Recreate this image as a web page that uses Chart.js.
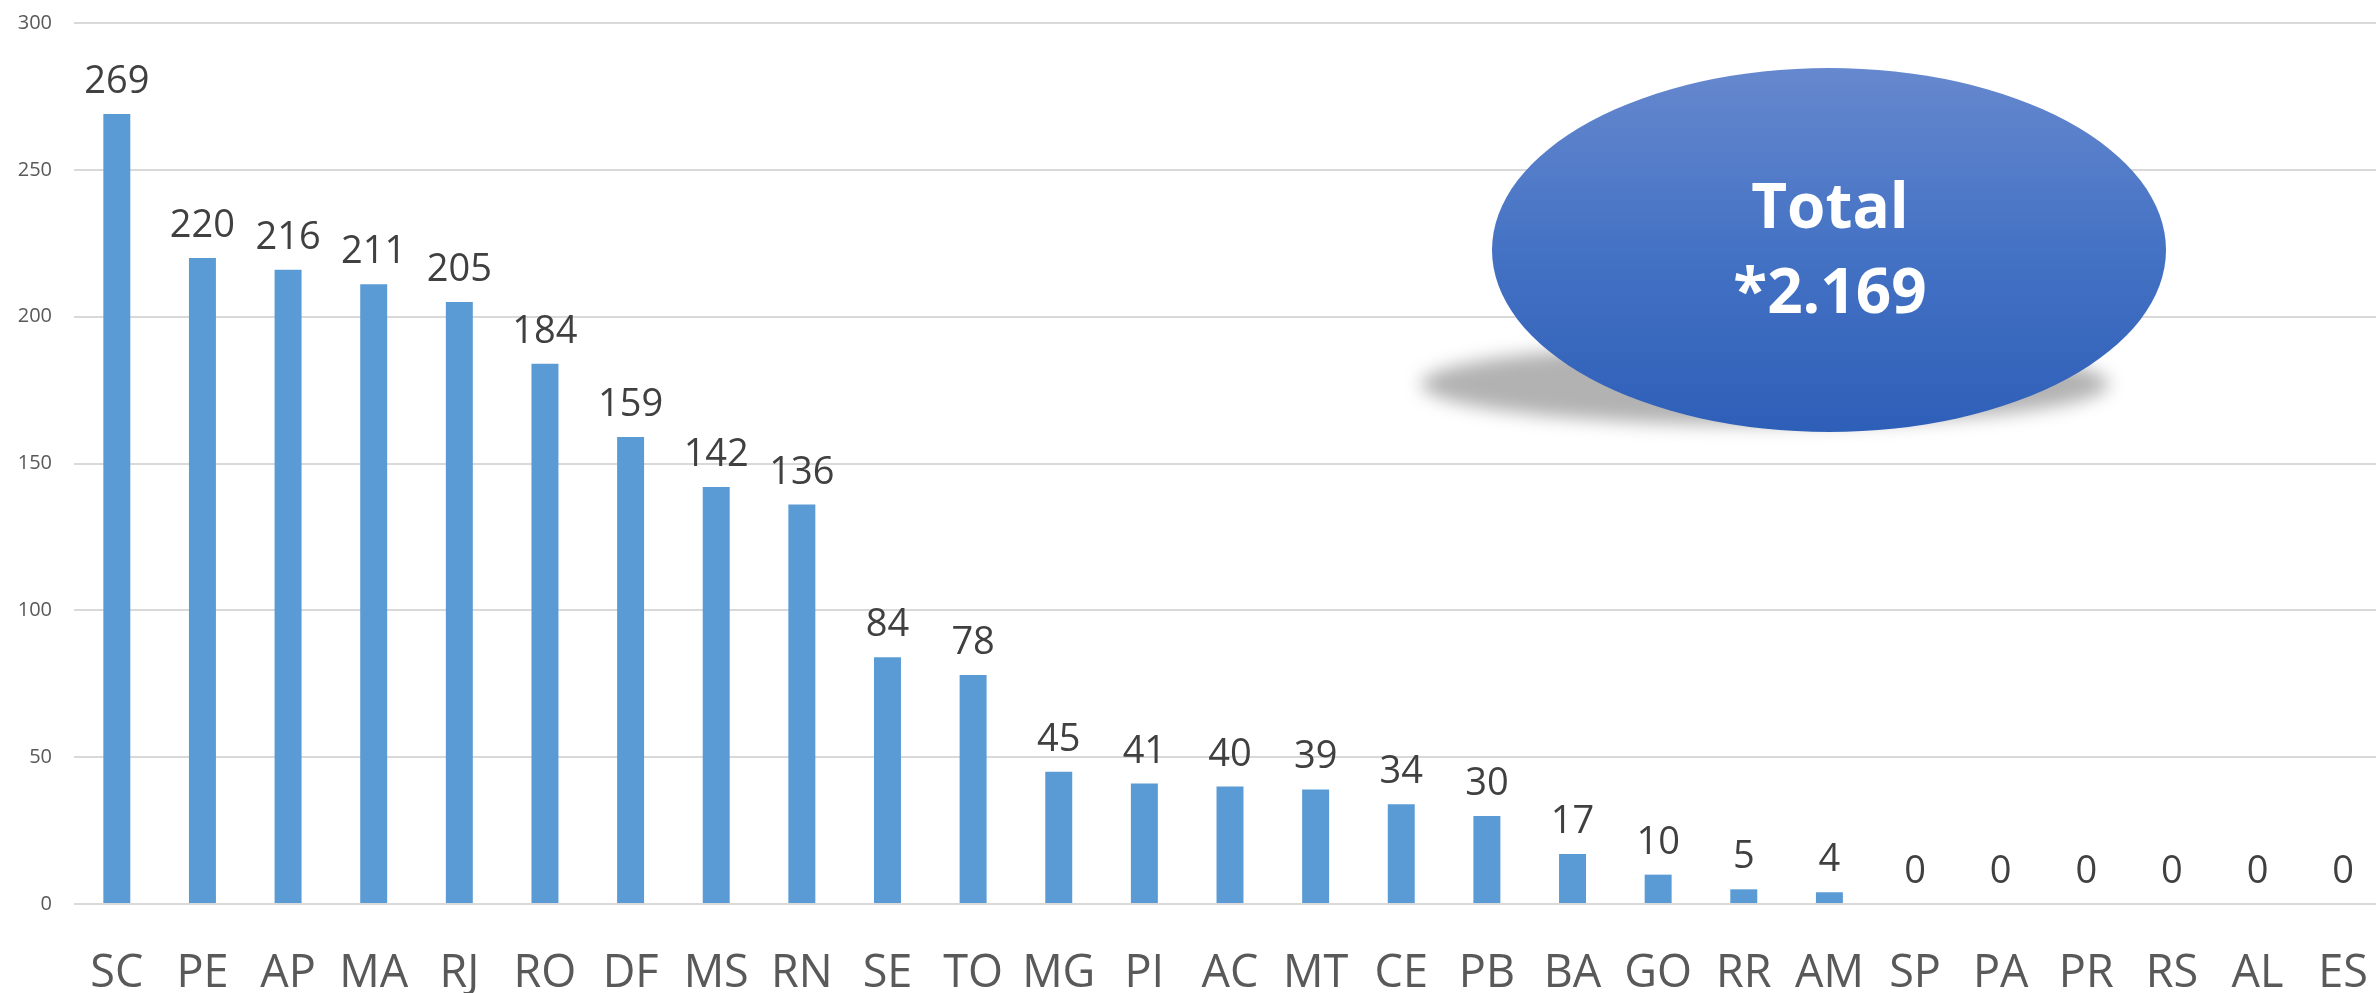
<!DOCTYPE html>
<html>
<head>
<meta charset="utf-8">
<script src="https://cdn.jsdelivr.net/npm/chart.js@4.4.1/dist/chart.umd.min.js"></script>
<style>
  html, body { margin: 0; padding: 0; background: #fff; overflow: hidden; }
  #wrap { width: 2386px; height: 993px; }
</style>
</head>
<body>
<div id="wrap"><canvas id="statesChart"></canvas></div>
<script>
// data
const states = ['SC', 'PE', 'AP', 'MA', 'RJ', 'RO', 'DF', 'MS', 'RN', 'SE', 'TO', 'MG', 'PI', 'AC',
                'MT', 'CE', 'PB', 'BA', 'GO', 'RR', 'AM', 'SP', 'PA', 'PR', 'RS', 'AL', 'ES'];
const counts = [269, 220, 216, 211, 205, 184, 159, 142, 136, 84, 78, 45, 41, 40,
                39, 34, 30, 17, 10, 5, 4, 0, 0, 0, 0, 0, 0];
const yTicks = [0, 50, 100, 150, 200, 250, 300];
const totalLines = ['Total', '*2.169'];

// value above each bar
const valueLabels = {
    id: 'valueLabels',
    afterDatasetsDraw(chart) {
        const ctx = chart.ctx;
        const meta = chart.getDatasetMeta(0);
        ctx.save();
        ctx.font = '38px "Open Sans"';
        ctx.fillStyle = '#404040';
        ctx.textAlign = 'center';
        ctx.textBaseline = 'alphabetic';
        meta.data.forEach(function (bar, i) {
            ctx.fillText(String(counts[i]), bar.x, bar.y - 21);
        });
        ctx.restore();
    }
};

// blue "Total" bubble with its grey shadow
const totalBubble = {
    id: 'totalBubble',
    afterDraw(chart) {
        const ctx = chart.ctx;
        ctx.save();
        ctx.filter = 'blur(9px)';
        ctx.fillStyle = 'rgba(0, 0, 0, 0.3)';
        ctx.beginPath();
        ctx.ellipse(1765, 384, 344, 41, 0, 0, Math.PI * 2);
        ctx.fill();
        ctx.filter = 'none';

        const grad = ctx.createLinearGradient(0, 68, 0, 432);
        grad.addColorStop(0, '#6688CE');
        grad.addColorStop(0.5, '#4472C4');
        grad.addColorStop(1, '#2E5FB8');
        ctx.fillStyle = grad;
        ctx.beginPath();
        ctx.ellipse(1829, 250, 337, 182, 0, 0, Math.PI * 2);
        ctx.fill();

        ctx.fillStyle = '#ffffff';
        ctx.font = 'bold 62px "Open Sans"';
        ctx.textAlign = 'center';
        ctx.textBaseline = 'middle';
        ctx.fillText(totalLines[0], 1830, 210);
        ctx.fillText(totalLines[1], 1830, 295);
        ctx.restore();
    }
};

const ctx = document.getElementById('statesChart').getContext('2d');
const statesChart = new Chart(ctx, {
    type: 'bar',
    data: {
        labels: states,
        datasets: [{
            data: counts,
            backgroundColor: '#5B9BD5',
            borderWidth: 0,
            categoryPercentage: 1,
            barPercentage: 0.315
        }]
    },
    options: {
        responsive: true,
        maintainAspectRatio: false,
        animation: false,
        layout: { padding: { top: 23, right: 0, bottom: 0, left: 0 } },
        plugins: {
            legend: { display: false },
            tooltip: { enabled: false }
        },
        scales: {
            x: {
                grid: { display: false },
                border: { display: false },
                ticks: {
                    color: '#595959',
                    font: { family: 'Open Sans', size: 45, lineHeight: 2.6 },
                    padding: 4,
                    maxRotation: 0,
                    autoSkip: false
                },
                afterFit: function (scale) { scale.height = 89; }
            },
            y: {
                min: 0,
                max: 300,
                afterBuildTicks: function (scale) {
                    scale.ticks = yTicks.map(function (v) { return { value: v }; });
                },
                // invisible tick marks give the gap between labels and grid
                grid: { color: '#D9D9D9', lineWidth: 2, tickLength: 22, tickColor: 'rgba(0,0,0,0)' },
                border: { display: false },
                ticks: {
                    color: '#595959',
                    font: { family: 'Open Sans', size: 20 },
                    padding: 0
                },
                afterFit: function (scale) { scale.width = 74; }
            }
        }
    },
    plugins: [valueLabels, totalBubble]
});
</script>
</body>
</html>
